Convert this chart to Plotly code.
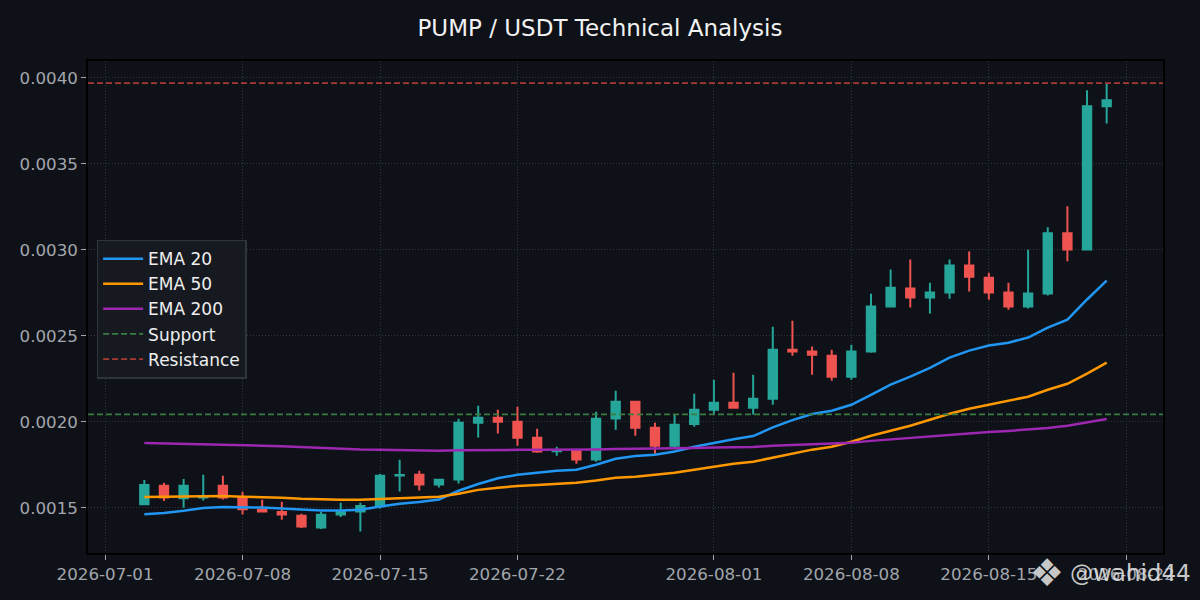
import pandas as pd
import plotly.graph_objects as go

# daily candles, 2026-07-03 .. 2026-08-21
dates = pd.date_range("2026-07-03", "2026-08-21", freq="D")

open_ = [0.001522, 0.001629, 0.001557, 0.001560, 0.001629, 0.001557, 0.001489, 0.001477, 0.001454, 0.001386,
         0.001462, 0.001479, 0.001510, 0.001688, 0.001693, 0.001636, 0.001665, 0.001995, 0.002024, 0.002001,
         0.001908, 0.001830, 0.001832, 0.001782, 0.002020, 0.002118, 0.001966, 0.001861, 0.001988, 0.002071,
         0.002112, 0.002083, 0.002135, 0.002420, 0.002409, 0.002385, 0.002263, 0.002409, 0.002671, 0.002776,
         0.002723, 0.002752, 0.002910, 0.002839, 0.002752, 0.002671, 0.002747, 0.003097, 0.003003, 0.003836]
high = [0.001662, 0.001646, 0.001669, 0.001693, 0.001687, 0.001594, 0.001547, 0.001536, 0.001466, 0.001477,
        0.001530, 0.001530, 0.001698, 0.001780, 0.001716, 0.001668, 0.002019, 0.002094, 0.002071, 0.002088,
        0.001960, 0.001856, 0.001840, 0.002059, 0.002181, 0.002120, 0.001995, 0.002042, 0.002164, 0.002246,
        0.002286, 0.002275, 0.002554, 0.002589, 0.002438, 0.002420, 0.002449, 0.002746, 0.002886, 0.002944,
        0.002810, 0.002944, 0.002991, 0.002868, 0.002810, 0.003002, 0.003132, 0.003254, 0.003929, 0.003970]
low = [0.001516, 0.001541, 0.001501, 0.001543, 0.001549, 0.001462, 0.001473, 0.001432, 0.001384, 0.001378,
       0.001448, 0.001363, 0.001497, 0.001596, 0.001601, 0.001619, 0.001642, 0.001910, 0.001933, 0.001861,
       0.001821, 0.001803, 0.001757, 0.001768, 0.001955, 0.001920, 0.001815, 0.001855, 0.001972, 0.002044,
       0.002077, 0.002044, 0.002100, 0.002385, 0.002275, 0.002240, 0.002246, 0.002403, 0.002668, 0.002665,
       0.002630, 0.002717, 0.002758, 0.002711, 0.002653, 0.002659, 0.002735, 0.002934, 0.002997, 0.003736]
close = [0.001633, 0.001561, 0.001629, 0.001565, 0.001561, 0.001493, 0.001479, 0.001462, 0.001392, 0.001460,
         0.001477, 0.001512, 0.001687, 0.001692, 0.001636, 0.001664, 0.001995, 0.002024, 0.002001, 0.001908,
         0.001828, 0.001834, 0.001782, 0.002019, 0.002118, 0.001966, 0.001861, 0.001984, 0.002071, 0.002112,
         0.002083, 0.002135, 0.002420, 0.002410, 0.002391, 0.002263, 0.002409, 0.002671, 0.002781, 0.002723,
         0.002752, 0.002910, 0.002845, 0.002752, 0.002671, 0.002747, 0.003097, 0.003003, 0.003836, 0.003871]

ema20 = [0.001464, 0.001471, 0.001483, 0.001499, 0.001506, 0.001506, 0.001502, 0.001497, 0.001489, 0.001485,
         0.001485, 0.001489, 0.001508, 0.001524, 0.001535, 0.001549, 0.001600, 0.001639, 0.001673, 0.001693,
         0.001704, 0.001716, 0.001722, 0.001751, 0.001786, 0.001802, 0.001809, 0.001828, 0.001856, 0.001879,
         0.001900, 0.001918, 0.001968, 0.002011, 0.002046, 0.002065, 0.002100, 0.002158, 0.002217, 0.002263,
         0.002314, 0.002374, 0.002415, 0.002444, 0.002461, 0.002491, 0.002549, 0.002595, 0.002712, 0.002822]
ema50 = [0.001563, 0.001565, 0.001567, 0.001569, 0.001569, 0.001565, 0.001563, 0.001559, 0.001553, 0.001549,
         0.001547, 0.001547, 0.001551, 0.001555, 0.001559, 0.001565, 0.001582, 0.001605, 0.001617, 0.001628,
         0.001634, 0.001640, 0.001646, 0.001659, 0.001676, 0.001682, 0.001693, 0.001705, 0.001722, 0.001740,
         0.001757, 0.001769, 0.001792, 0.001816, 0.001839, 0.001856, 0.001885, 0.001920, 0.001949, 0.001978,
         0.002013, 0.002048, 0.002077, 0.002100, 0.002123, 0.002147, 0.002187, 0.002222, 0.002281, 0.002345]
ema200 = [0.001878, 0.001876, 0.001874, 0.001872, 0.001869, 0.001866, 0.001862, 0.001858, 0.001853, 0.001848,
          0.001844, 0.001840, 0.001838, 0.001836, 0.001834, 0.001833, 0.001835, 0.001837, 0.001838, 0.001838,
          0.001838, 0.001838, 0.001837, 0.001840, 0.001843, 0.001844, 0.001844, 0.001846, 0.001849, 0.001852,
          0.001853, 0.001855, 0.001861, 0.001866, 0.001870, 0.001873, 0.001879, 0.001890, 0.001899, 0.001906,
          0.001914, 0.001924, 0.001934, 0.001942, 0.001948, 0.001955, 0.001965, 0.001978, 0.001997, 0.002017]

support = 0.002044
resistance = 0.003970

x_ticks = ["2026-07-01", "2026-07-08", "2026-07-15", "2026-07-22",
           "2026-08-01", "2026-08-08", "2026-08-15", "2026-08-22"]
y_ticks = [0.0015, 0.0020, 0.0025, 0.0030, 0.0035, 0.0040]

BG = "#0e1117"
GRID = "#30343c"
TICK = "#a2a6ac"
FONT = "DejaVu Sans"

fig = go.Figure()

fig.add_trace(go.Candlestick(
    x=dates, open=open_, high=high, low=low, close=close,
    increasing=dict(line=dict(color="#26a69a", width=2), fillcolor="#26a69a"),
    decreasing=dict(line=dict(color="#ef5350", width=2), fillcolor="#ef5350"),
    showlegend=False, name="PUMP/USDT",
))

for name, vals, color in [("EMA 20", ema20, "#2196f3"),
                          ("EMA 50", ema50, "#ff9800"),
                          ("EMA 200", ema200, "#9c27b0")]:
    fig.add_trace(go.Scatter(x=dates, y=vals, mode="lines", name=name,
                             line=dict(color=color, width=2.5)))

# support / resistance as full-width dashed lines, also listed in legend
for name, level, color, rank in [("Support", support, "#3b7d40", 1004),
                                 ("Resistance", resistance, "#a83a33", 1005)]:
    fig.add_shape(type="line", xref="paper", x0=0, x1=1, yref="y", y0=level, y1=level,
                  line=dict(color=color, width=1.7, dash="6px,3px"),
                  name=name, showlegend=True, legendrank=rank, layer="above")

fig.update_layout(
    width=1200, height=600,
    paper_bgcolor=BG, plot_bgcolor=BG,
    font=dict(family=FONT, color=TICK, size=16.7),
    title=dict(text="PUMP / USDT Technical Analysis", x=0.5, xanchor="center",
               y=1 - 28 / 600, yanchor="middle", font=dict(size=23, color="#f2f2f2")),
    margin=dict(l=88, r=37, t=61, b=47),
    boxgap=0.39,
    legend=dict(x=0.008, y=0.637, xanchor="left", yanchor="top",
                bgcolor="#161a20", bordercolor="#2f333a", borderwidth=1.5,
                itemwidth=40,
                font=dict(size=17, color="#eeeeee"), tracegroupgap=0),
    hovermode=False,
    annotations=[
        dict(text="❖", xref="paper", yref="paper", x=(1066 - 88) / 1075,
             y=-20 / 492, yanchor="middle", showarrow=False,
             font=dict(size=38, color="rgba(225,225,225,0.9)")),
        dict(text="@wahid44", xref="paper", yref="paper",
             x=(1193 - 88) / 1075, xanchor="right", y=-20 / 492, yanchor="middle",
             showarrow=False, font=dict(size=23, color="rgba(225,225,225,0.9)")),
    ],
)

fig.update_xaxes(
    type="date", range=["2026-06-30 03:10", "2026-08-23 20:50"],
    rangeslider=dict(visible=False),
    tickvals=x_ticks, ticktext=x_ticks,
    showgrid=True, gridcolor=GRID, griddash="1px,2px", gridwidth=1,
    showline=True, linecolor="#000000", linewidth=1.5, mirror=True,
    ticks="outside", ticklen=5, tickcolor=TICK, tickfont=dict(size=16.7, color=TICK),
    zeroline=False,
)
fig.update_yaxes(
    range=[0.001238, 0.0040988],
    tickvals=y_ticks, tickformat=".4f",
    showgrid=True, gridcolor=GRID, griddash="1px,2px", gridwidth=1,
    showline=True, linecolor="#000000", linewidth=1.5, mirror=True,
    ticks="outside", ticklen=5, tickcolor=TICK, tickfont=dict(size=16.7, color=TICK),
    zeroline=False,
)

# drop the default page margin so the figure sits at the window's top-left corner
fig.write_html("out.html", config={"displayModeBar": False},
               post_script="document.body.style.margin = '0';")
